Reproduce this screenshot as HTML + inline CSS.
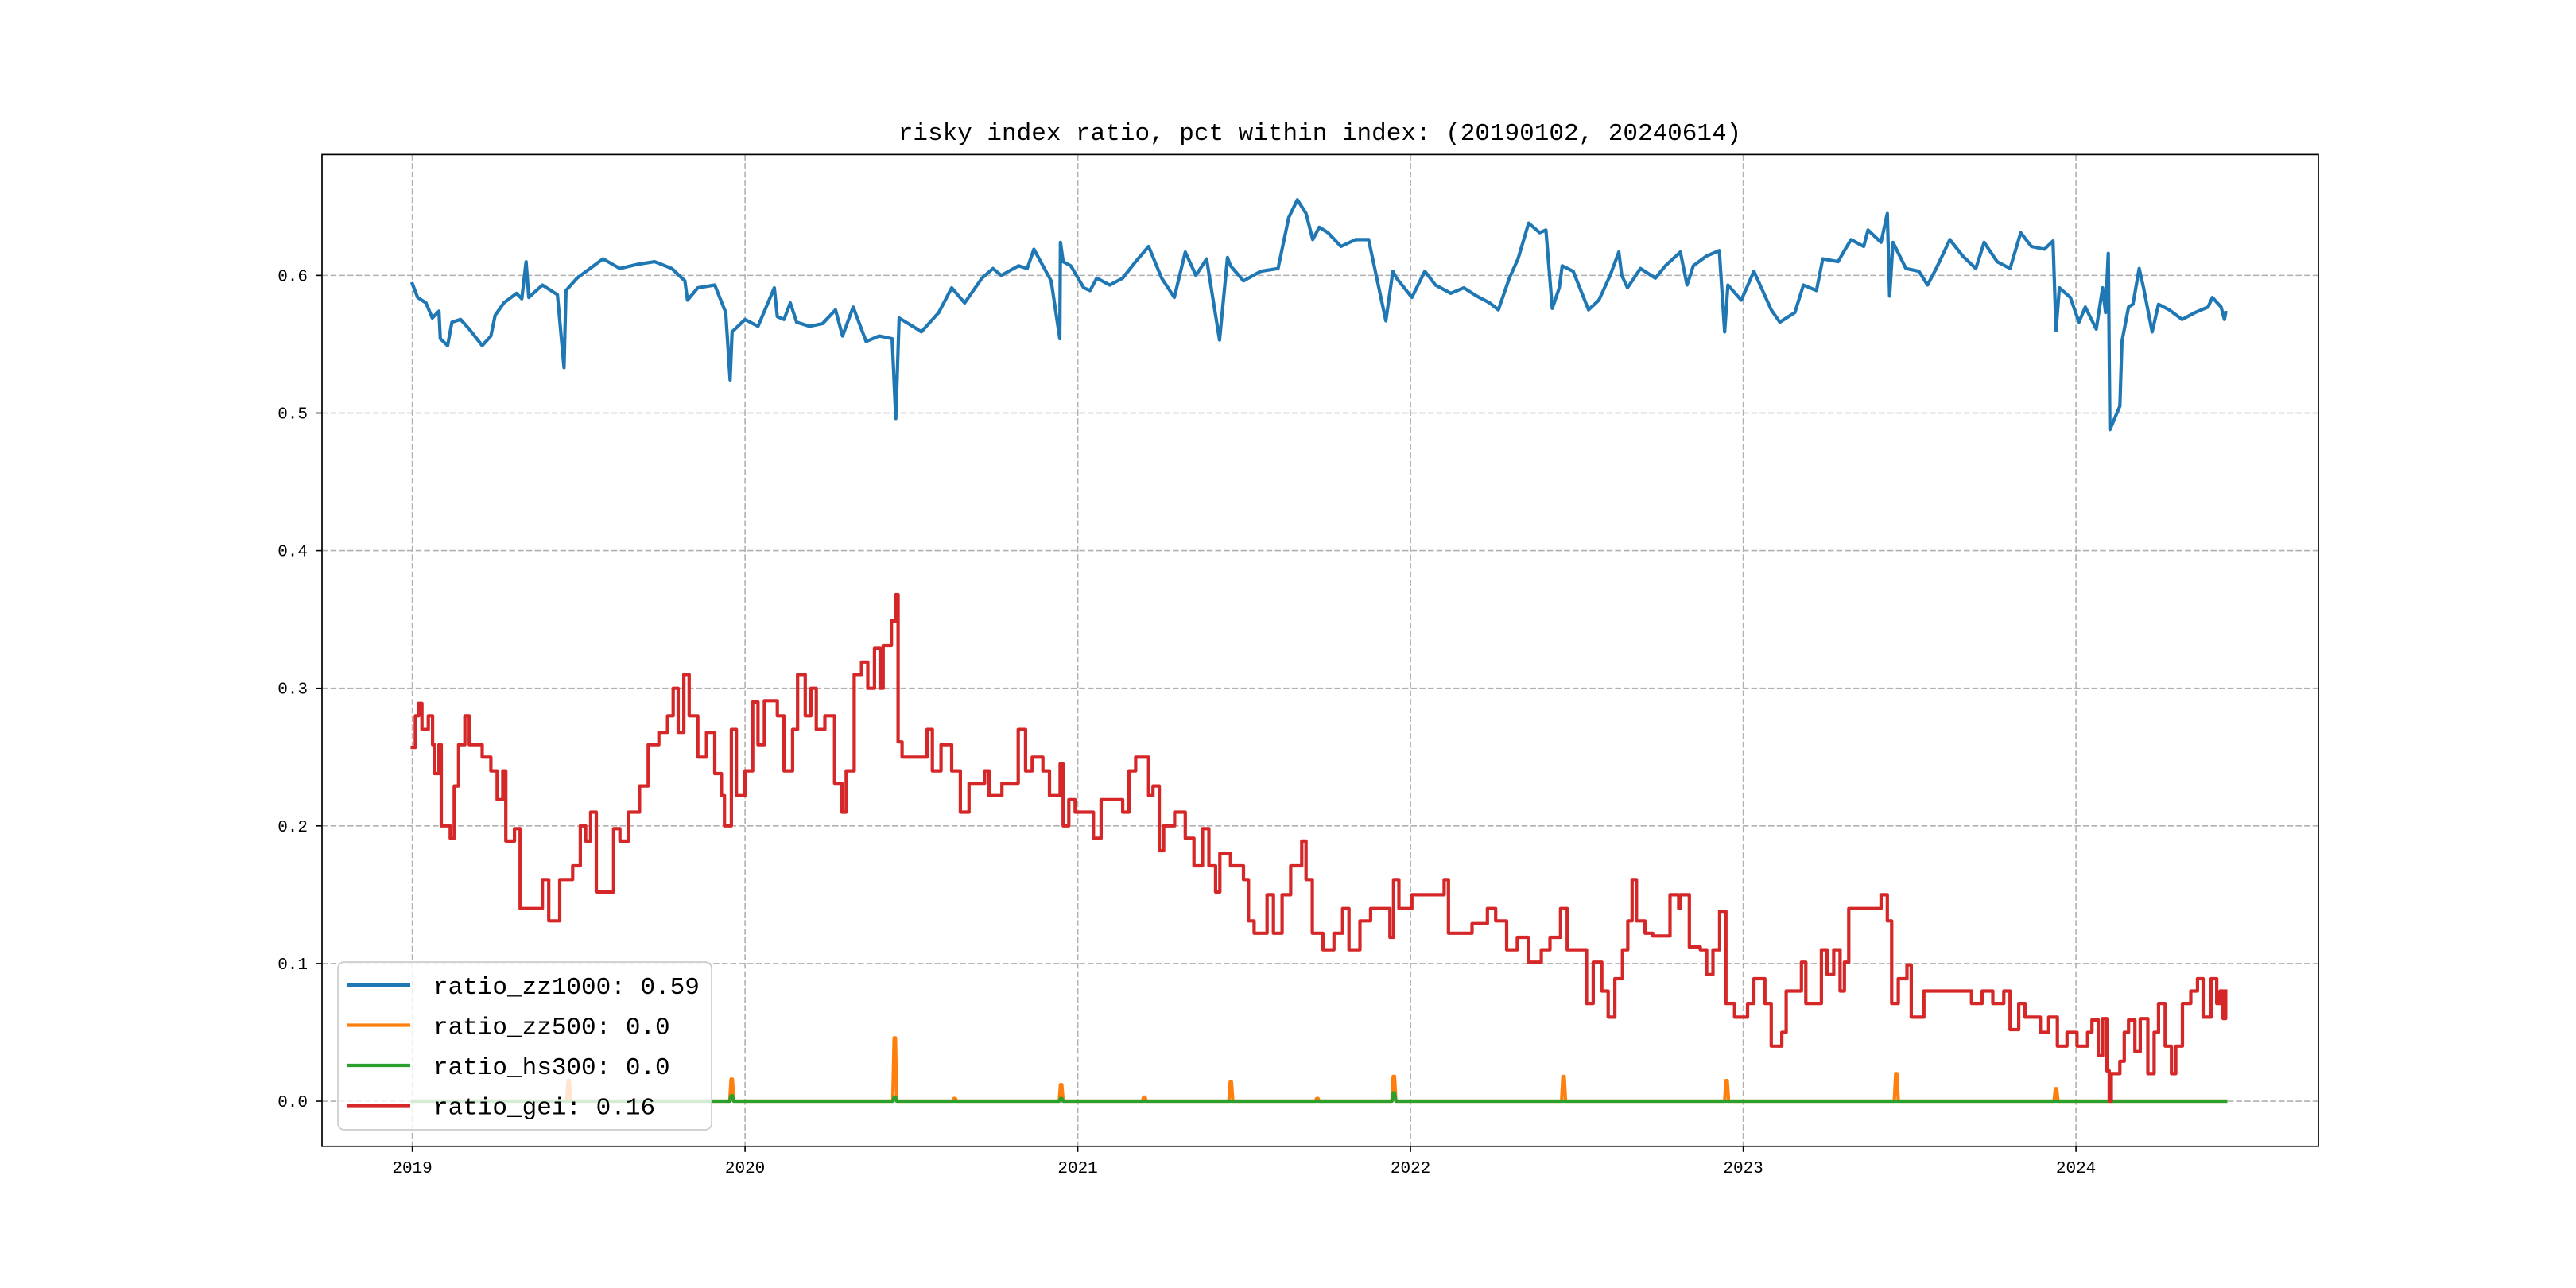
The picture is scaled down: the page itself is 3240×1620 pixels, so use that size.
<!DOCTYPE html>
<html><head><meta charset="utf-8"><style>
html,body{margin:0;padding:0;background:#fff}
svg{display:block}
text{font-family:"Liberation Mono","Noto Sans CJK SC",monospace;}
</style></head><body>
<svg id="chart" width="3240" height="1620" viewBox="0 0 3240 1620" xmlns="http://www.w3.org/2000/svg">
<rect x="0" y="0" width="3240" height="1620" fill="#fff"/>
<text x="1660" y="176" text-anchor="middle" font-size="31" fill="#000">risky index ratio, pct within index: (20190102, 20240614)</text>
<g id="grid"></g>
<g id="series"></g>
<rect x="405" y="194.4" width="2511" height="1247.4" fill="none" stroke="#000" stroke-width="1.7"/>
<g id="ticks"></g>
<g id="legend"></g>
</svg>
<script>
// ---- data ----
const yTickValues = [0.0, 0.1, 0.2, 0.3, 0.4, 0.5, 0.6];
const yTickLabels = ["0.0","0.1","0.2","0.3","0.4","0.5","0.6"];
const xTickYears = [2019, 2020, 2021, 2022, 2023, 2024];
const xTickLabels = ["2019","2020","2021","2022","2023","2024"];

const zz1000Dates = [2019.000,2019.016,2019.041,2019.060,2019.080,2019.084,2019.106,2019.119,2019.145,2019.171,2019.210,2019.236,2019.249,2019.275,2019.313,2019.329,2019.342,2019.350,2019.391,2019.436,2019.456,2019.462,2019.495,2019.534,2019.573,2019.624,2019.676,2019.728,2019.780,2019.819,2019.827,2019.858,2019.909,2019.942,2019.955,2019.961,2020.000,2020.039,2020.088,2020.097,2020.117,2020.136,2020.155,2020.194,2020.233,2020.272,2020.293,2020.325,2020.364,2020.403,2020.442,2020.453,2020.463,2020.504,2020.530,2020.582,2020.621,2020.660,2020.712,2020.745,2020.770,2020.822,2020.848,2020.868,2020.920,2020.946,2020.948,2020.956,2020.979,2021.018,2021.037,2021.057,2021.096,2021.135,2021.174,2021.213,2021.252,2021.290,2021.323,2021.355,2021.387,2021.426,2021.450,2021.459,2021.498,2021.550,2021.602,2021.634,2021.660,2021.686,2021.706,2021.726,2021.752,2021.791,2021.835,2021.874,2021.926,2021.947,2021.958,2022.004,2022.043,2022.075,2022.121,2022.160,2022.199,2022.238,2022.264,2022.297,2022.323,2022.355,2022.388,2022.407,2022.426,2022.447,2022.456,2022.489,2022.535,2022.566,2022.600,2022.626,2022.635,2022.652,2022.691,2022.736,2022.766,2022.811,2022.831,2022.850,2022.889,2022.928,2022.944,2022.954,2022.994,2023.032,2023.084,2023.110,2023.155,2023.181,2023.220,2023.239,2023.285,2023.304,2023.324,2023.362,2023.375,2023.414,2023.433,2023.440,2023.450,2023.489,2023.528,2023.554,2023.580,2023.621,2023.660,2023.699,2023.724,2023.763,2023.802,2023.834,2023.866,2023.905,2023.931,2023.940,2023.950,2023.983,2024.009,2024.028,2024.061,2024.080,2024.089,2024.097,2024.102,2024.132,2024.138,2024.158,2024.171,2024.190,2024.203,2024.229,2024.248,2024.280,2024.319,2024.358,2024.397,2024.410,2024.436,2024.446,2024.450];
const zz1000Values = [0.594,0.584,0.580,0.569,0.574,0.554,0.549,0.566,0.568,0.561,0.549,0.556,0.571,0.580,0.587,0.583,0.610,0.584,0.593,0.586,0.533,0.589,0.598,0.605,0.612,0.605,0.608,0.610,0.605,0.596,0.582,0.591,0.593,0.573,0.524,0.559,0.568,0.563,0.591,0.570,0.568,0.580,0.566,0.563,0.565,0.575,0.556,0.577,0.552,0.556,0.554,0.496,0.569,0.563,0.559,0.573,0.591,0.580,0.598,0.605,0.600,0.607,0.605,0.619,0.596,0.554,0.624,0.610,0.607,0.591,0.589,0.598,0.593,0.598,0.610,0.621,0.598,0.584,0.617,0.600,0.612,0.553,0.613,0.607,0.596,0.603,0.605,0.642,0.655,0.645,0.626,0.635,0.631,0.621,0.626,0.626,0.567,0.603,0.598,0.584,0.603,0.593,0.587,0.591,0.585,0.580,0.575,0.598,0.612,0.638,0.631,0.633,0.576,0.591,0.607,0.603,0.575,0.582,0.600,0.617,0.600,0.591,0.605,0.598,0.607,0.617,0.593,0.607,0.614,0.618,0.559,0.593,0.582,0.603,0.575,0.566,0.573,0.593,0.589,0.612,0.610,0.618,0.626,0.621,0.633,0.624,0.645,0.585,0.624,0.605,0.603,0.593,0.605,0.626,0.614,0.605,0.624,0.610,0.605,0.631,0.621,0.619,0.625,0.560,0.591,0.584,0.566,0.577,0.561,0.591,0.573,0.616,0.488,0.505,0.552,0.577,0.579,0.605,0.591,0.559,0.579,0.575,0.568,0.573,0.577,0.584,0.577,0.568,0.573];

const geiDates = [2019.000,2019.009,2019.019,2019.029,2019.048,2019.061,2019.067,2019.080,2019.087,2019.106,2019.114,2019.126,2019.139,2019.158,2019.171,2019.210,2019.236,2019.255,2019.272,2019.281,2019.307,2019.324,2019.365,2019.391,2019.410,2019.443,2019.469,2019.482,2019.505,2019.521,2019.536,2019.553,2019.585,2019.605,2019.624,2019.650,2019.683,2019.709,2019.741,2019.767,2019.784,2019.799,2019.816,2019.832,2019.858,2019.884,2019.909,2019.929,2019.938,2019.959,2019.974,2020.000,2020.023,2020.039,2020.058,2020.097,2020.117,2020.143,2020.158,2020.181,2020.198,2020.214,2020.240,2020.269,2020.291,2020.304,2020.328,2020.350,2020.369,2020.389,2020.406,2020.415,2020.440,2020.453,2020.460,2020.472,2020.518,2020.547,2020.563,2020.589,2020.621,2020.647,2020.673,
2020.720,2020.733,2020.772,2020.804,2020.821,2020.843,2020.863,2020.895,2020.915,2020.947,2020.956,2020.973,2020.992,2021.025,2021.047,2021.070,2021.109,2021.135,2021.154,2021.174,2021.200,2021.213,2021.226,2021.245,2021.258,2021.291,2021.323,2021.349,2021.375,2021.394,2021.414,2021.427,2021.459,2021.498,2021.513,2021.530,2021.569,2021.588,2021.614,2021.640,2021.673,2021.686,2021.705,2021.737,2021.770,2021.796,2021.815,2021.848,2021.880,2021.912,2021.938,2021.949,2021.965,2022.004,2022.043,2022.069,2022.101,2022.114,2022.147,2022.185,2022.231,2022.256,2022.289,2022.321,2022.354,2022.393,2022.419,2022.451,2022.471,2022.510,2022.529,2022.549,2022.575,2022.594,2022.614,2022.637,2022.653,2022.666,2022.679,2022.705,
2022.728,2022.777,2022.780,2022.806,2022.812,2022.838,2022.871,2022.890,2022.909,2022.929,2022.948,2022.974,2023.013,2023.032,2023.065,2023.084,2023.116,2023.129,2023.155,2023.175,2023.188,2023.213,2023.235,2023.252,2023.272,2023.291,2023.304,2023.317,2023.349,2023.414,2023.433,2023.446,2023.466,2023.492,2023.505,2023.543,2023.582,2023.634,2023.686,2023.718,2023.750,2023.783,2023.802,2023.828,2023.847,2023.893,2023.918,2023.944,2023.973,2024.003,2024.035,2024.048,2024.067,2024.080,2024.093,2024.100,2024.106,2024.132,2024.145,2024.158,2024.177,2024.193,2024.216,2024.235,2024.248,2024.268,2024.287,2024.300,2024.320,2024.345,2024.365,2024.382,2024.406,2024.423,2024.433,2024.442,2024.450];
const geiValues = [0.257,0.280,0.289,0.270,0.280,0.259,0.238,0.259,0.200,0.200,0.191,0.229,0.259,0.280,0.259,0.250,0.240,0.219,0.240,0.189,0.198,0.140,0.140,0.161,0.131,0.161,0.161,0.171,0.200,0.189,0.210,0.152,0.152,0.198,0.189,0.210,0.229,0.259,0.268,0.280,0.300,0.268,0.310,0.280,0.250,0.268,0.238,0.222,0.200,0.270,0.222,0.240,0.290,0.259,0.291,0.280,0.240,0.270,0.310,0.280,0.300,0.270,0.280,0.231,0.210,0.240,0.310,0.319,0.300,0.329,0.300,0.331,0.349,0.368,0.261,0.250,0.250,0.270,0.240,0.259,0.240,0.210,0.231,
0.240,0.222,0.231,0.231,0.270,0.240,0.250,0.240,0.222,0.245,0.200,0.219,0.210,0.210,0.191,0.219,0.219,0.210,0.240,0.250,0.250,0.222,0.229,0.182,0.200,0.210,0.191,0.171,0.198,0.171,0.152,0.180,0.171,0.161,0.131,0.122,0.150,0.122,0.150,0.171,0.189,0.161,0.122,0.110,0.122,0.140,0.110,0.131,0.140,0.140,0.119,0.161,0.140,0.150,0.150,0.150,0.161,0.122,0.122,0.129,0.140,0.131,0.110,0.119,0.101,0.110,0.119,0.140,0.110,0.110,0.071,0.101,0.080,0.061,0.089,0.110,0.131,0.161,0.131,0.122,
0.120,0.120,0.150,0.140,0.150,0.112,0.110,0.092,0.110,0.138,0.071,0.061,0.071,0.089,0.071,0.040,0.050,0.080,0.080,0.101,0.071,0.071,0.110,0.092,0.110,0.080,0.101,0.140,0.140,0.150,0.131,0.071,0.089,0.099,0.061,0.080,0.080,0.080,0.071,0.080,0.071,0.080,0.052,0.071,0.061,0.050,0.061,0.040,0.050,0.040,0.050,0.059,0.033,0.060,0.022,0.000,0.020,0.029,0.050,0.059,0.036,0.060,0.020,0.050,0.071,0.040,0.020,0.040,0.071,0.080,0.089,0.061,0.089,0.071,0.080,0.060,0.080];

const zz500SpikeDates = [2019.470,2019.960,2020.450,2020.630,2020.950,2021.200,2021.460,2021.720,2021.950,2022.460,2022.950,2023.460,2023.940];
const zz500SpikeValues = [0.015,0.016,0.046,0.002,0.012,0.003,0.014,0.002,0.018,0.018,0.015,0.020,0.009];
const hs300SpikeDates = [2019.960,2020.450,2020.950,2021.950];
const hs300SpikeValues = [0.004,0.003,0.002,0.006];
const seriesStart = 2019.000, seriesEnd = 2024.450;

// ---- axes ----
const PX0 = 405, PX1 = 2916, PY0 = 194.4, PY1 = 1441.8;
const yMin = -0.0328, yMax = 0.6878;
function xScale(yr){ return 518.6 + (yr - 2019) * 418.5; }
function yScale(v){ return PY1 - (v - yMin) / (yMax - yMin) * (PY1 - PY0); }
const NS = "http://www.w3.org/2000/svg";
function mk(tag, attrs, parent){ const e = document.createElementNS(NS, tag); for (const k in attrs) e.setAttribute(k, attrs[k]); parent.appendChild(e); return e; }

const grid = document.getElementById('grid');
const ticks = document.getElementById('ticks');
yTickValues.forEach((v, i) => {
  const y = yScale(v);
  const g = mk('line', {x1:PX0, x2:PX1, y1:y, y2:y, stroke:'#b0b0b0', 'stroke-width':1.6, 'stroke-dasharray':'7.5,3.2'}, grid);
  
  
  const t = mk('line', {x1:PX0-7, x2:PX0, y1:y, y2:y, stroke:'#000', 'stroke-width':1.6}, ticks);
  
  
  const l = mk('text', {x:PX0-18, y:y+7, 'text-anchor':'end', 'font-size':21, fill:'#000'}, ticks);
  l.textContent = yTickLabels[i];
  
  
});
xTickYears.forEach((yr, i) => {
  const x = xScale(yr);
  const g = mk('line', {x1:x, x2:x, y1:PY0, y2:PY1, stroke:'#b0b0b0', 'stroke-width':1.6, 'stroke-dasharray':'7.5,3.2'}, grid);
  
  
  const t = mk('line', {x1:x, x2:x, y1:PY1, y2:PY1+7, stroke:'#000', 'stroke-width':1.6}, ticks);
  
  
  const l = mk('text', {x:x, y:PY1+33, 'text-anchor':'middle', 'font-size':21, fill:'#000'}, ticks);
  l.textContent = xTickLabels[i];
  
  
});

// ---- series ----
const series = document.getElementById('series');
function linePath(ds, vs){ return ds.map((d, i) => (i ? 'L' : 'M') + xScale(d).toFixed(1) + ',' + yScale(vs[i]).toFixed(1)).join(''); }
function stepPath(ds, vs){
  let p = '';
  const n = Math.min(ds.length, vs.length);
  for (let i = 0; i < n; i++) {
    const x = xScale(ds[i]).toFixed(1), y = yScale(vs[i]).toFixed(1);
    if (i === 0) p += 'M' + x + ',' + y;
    else p += 'L' + x + ',' + yScale(vs[i-1]).toFixed(1) + 'L' + x + ',' + y;
  }
  return p;
}
function spikePath(ds, vs){
  let p = 'M' + xScale(seriesStart).toFixed(1) + ',' + yScale(0).toFixed(1);
  ds.forEach((d, i) => {
    p += 'L' + xScale(d - 0.006).toFixed(1) + ',' + yScale(0).toFixed(1);
    p += 'L' + xScale(d - 0.002).toFixed(1) + ',' + yScale(vs[i]).toFixed(1);
    p += 'L' + xScale(d + 0.002).toFixed(1) + ',' + yScale(vs[i]).toFixed(1);
    p += 'L' + xScale(d + 0.006).toFixed(1) + ',' + yScale(0).toFixed(1);
  });
  p += 'L' + xScale(seriesEnd).toFixed(1) + ',' + yScale(0).toFixed(1);
  return p;
}
const common = {fill:'none', 'stroke-width':4.2, 'stroke-linejoin':'round', 'stroke-linecap':'square'};
const sZz = mk('path', Object.assign({d:linePath(zz1000Dates, zz1000Values), stroke:'#1f77b4'}, common), series);


const s500 = mk('path', Object.assign({d:spikePath(zz500SpikeDates, zz500SpikeValues), stroke:'#ff7f0e'}, common), series);


const s300 = mk('path', Object.assign({d:spikePath(hs300SpikeDates, hs300SpikeValues), stroke:'#2ca02c'}, common), series);


const sGei = mk('path', Object.assign({d:stepPath(geiDates, geiValues), stroke:'#d62728'}, common), series);



// ---- legend ----
const legendLabels = ["ratio_zz1000: 0.59","ratio_zz500: 0.0","ratio_hs300: 0.0","ratio_gei: 0.16"];
const legendColors = ['#1f77b4','#ff7f0e','#2ca02c','#d62728'];
const lg = document.getElementById('legend');
const box = mk('rect', {x:425, y:1210, width:470, height:211, rx:8, fill:'#fff', 'fill-opacity':0.8, stroke:'#cccccc', 'stroke-width':1.7}, lg);


legendLabels.forEach((lab, i) => {
  const y = 1239 + i * 50.5;
  const ln = mk('line', {x1:437, x2:516, y1:y, y2:y, stroke:legendColors[i], 'stroke-width':4.2}, lg);
  
  
  const t = mk('text', {x:545, y:y+11, 'font-size':31, fill:'#000'}, lg);
  t.textContent = lab;
  
  
});
</script>
</body></html>
